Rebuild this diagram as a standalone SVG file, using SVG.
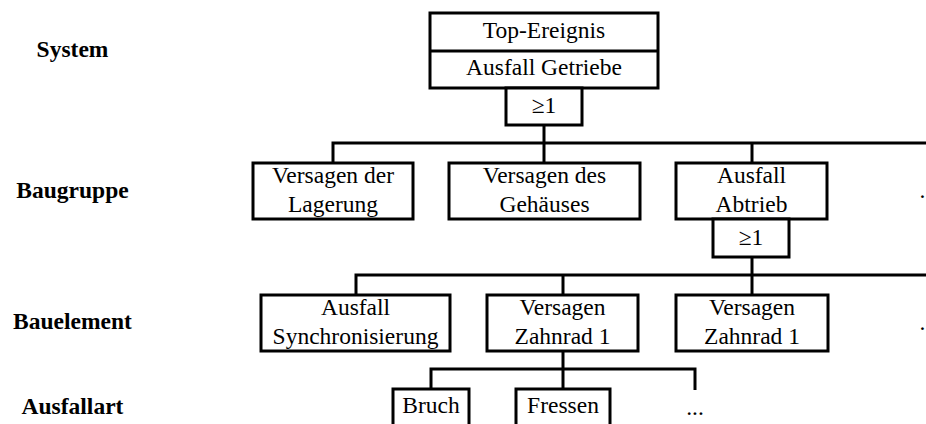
<svg xmlns="http://www.w3.org/2000/svg" width="926" height="424" viewBox="0 0 926 424" font-family="'Liberation Serif', 'Times New Roman', serif">
  <style>
    .box { fill: #fff; stroke: #000; stroke-width: 3; }
    .wire { fill: none; stroke: #000; stroke-width: 3; }
    text { font-family: "Liberation Serif", "Times New Roman", serif; font-size: 23.5px; fill: #000; text-anchor: middle; }
    .lvl { font-weight: bold; }
  </style>
  <rect width="926" height="424" fill="#fff"/>

  <!-- level labels -->
  <g id="levels">
    <text class="lvl" x="72.5" y="57">System</text>
    <text class="lvl" x="72.5" y="198">Baugruppe</text>
    <text class="lvl" x="72.5" y="329">Bauelement</text>
    <text class="lvl" x="72.5" y="414">Ausfallart</text>
  </g>

  <!-- connectors -->
  <g id="connectors" class="wire">
    <path d="M544 125 V163"/>
    <path d="M333 163 V143 H926"/>
    <path d="M752 143 V163"/>
    <path d="M752 257 V295"/>
    <path d="M356 295 V275 H926"/>
    <path d="M563 275 V295"/>
    <path d="M563 351 V389"/>
    <path d="M431 389 V369 H695 V390"/>
  </g>

  <!-- system -->
  <g id="top-event">
    <rect class="box" x="430" y="13" width="228" height="75"/>
    <line class="wire" x1="430" y1="51" x2="658" y2="51"/>
    <text x="544" y="38">Top-Ereignis</text>
    <text x="544" y="75">Ausfall Getriebe</text>
  </g>
  <g id="gate-top">
    <rect class="box" x="506" y="88" width="76" height="37"/>
    <text x="544" y="113">≥1</text>
  </g>

  <!-- assemblies -->
  <g id="lagerung">
    <rect class="box" x="253" y="163" width="160" height="56"/>
    <text x="333" y="183">Versagen der</text>
    <text x="333" y="211.5">Lagerung</text>
  </g>
  <g id="gehaeuse">
    <rect class="box" x="449" y="163" width="191" height="56"/>
    <text x="544.5" y="183">Versagen des</text>
    <text x="544.5" y="211.5">Gehäuses</text>
  </g>
  <g id="abtrieb">
    <rect class="box" x="676" y="163" width="151" height="56"/>
    <text x="751.5" y="183">Ausfall</text>
    <text x="751.5" y="211.5">Abtrieb</text>
  </g>
  <g id="gate-abtrieb">
    <rect class="box" x="713" y="219" width="76" height="38"/>
    <text x="751" y="245">≥1</text>
  </g>
  <g id="more-assemblies">
    <text x="919.5" y="198" style="text-anchor:start">.</text>
  </g>

  <!-- components -->
  <g id="synchronisierung">
    <rect class="box" x="261" y="295" width="189" height="56"/>
    <text x="355.5" y="315">Ausfall</text>
    <text x="355.5" y="343.5">Synchronisierung</text>
  </g>
  <g id="zahnrad-a">
    <rect class="box" x="487" y="295" width="151" height="56"/>
    <text x="562.5" y="315">Versagen</text>
    <text x="562.5" y="343.5">Zahnrad 1</text>
  </g>
  <g id="zahnrad-b">
    <rect class="box" x="676" y="295" width="152" height="56"/>
    <text x="752" y="315">Versagen</text>
    <text x="752" y="343.5">Zahnrad 1</text>
  </g>
  <g id="more-components">
    <text x="919.5" y="330" style="text-anchor:start">.</text>
  </g>

  <!-- failure modes -->
  <g id="bruch">
    <rect class="box" x="393" y="389" width="76" height="45"/>
    <text x="431" y="413">Bruch</text>
  </g>
  <g id="fressen">
    <rect class="box" x="516" y="389" width="94" height="45"/>
    <text x="563" y="413">Fressen</text>
  </g>
  <g id="more-modes">
    <text x="695" y="415">...</text>
  </g>
</svg>
